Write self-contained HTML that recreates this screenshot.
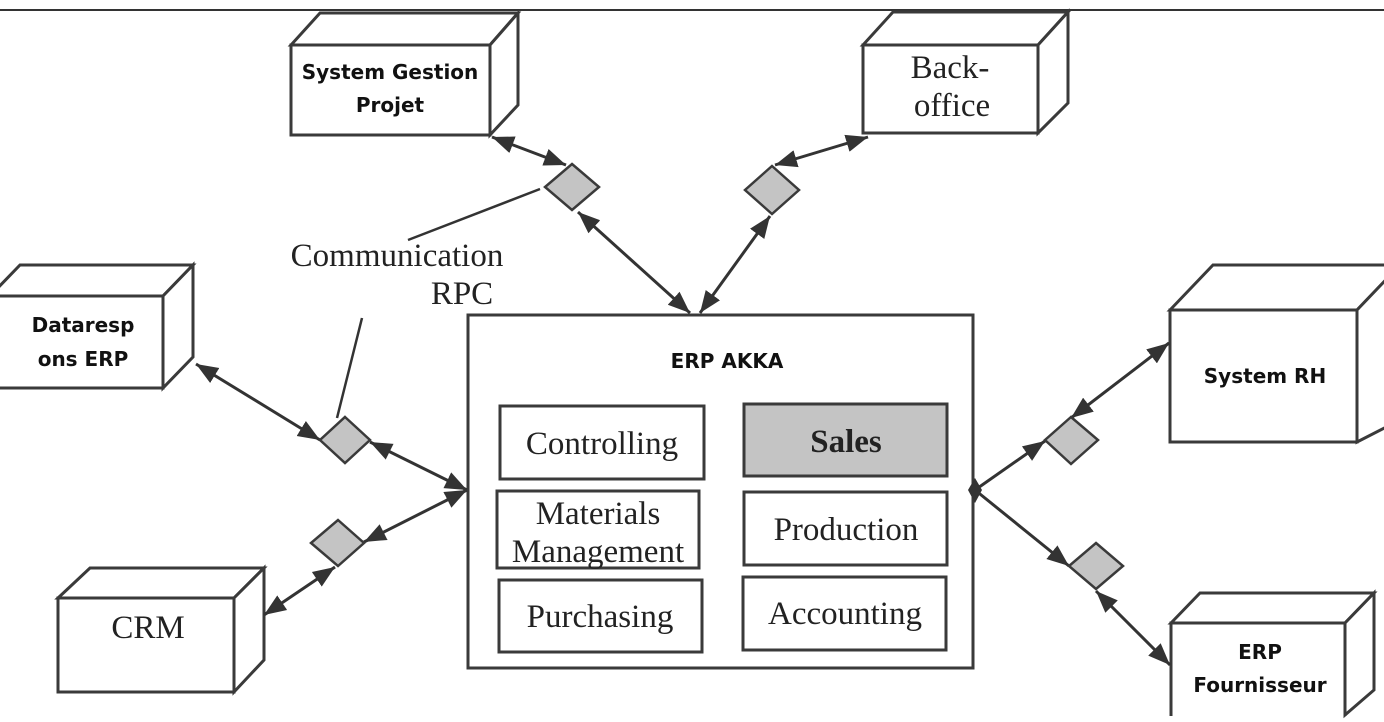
<!DOCTYPE html>
<html><head><meta charset="utf-8"><style>
html,body{margin:0;padding:0;background:#fff;}
svg{display:block;}
.b{font-family:"DejaVu Sans","Liberation Sans",sans-serif;font-weight:bold;font-size:20px;fill:#111;}
.s{font-family:"Liberation Serif",serif;font-size:33px;fill:#222;}
</style></head><body>
<svg width="1384" height="722" viewBox="0 0 1384 722" xmlns="http://www.w3.org/2000/svg">
<defs>
<marker id="A" viewBox="0 0 10 10" refX="10" refY="5" markerWidth="22" markerHeight="22" orient="auto-start-reverse" markerUnits="userSpaceOnUse">
<path d="M0,1 L10,5 L0,9 z" fill="#333"/></marker>
</defs>
<line x1="0" y1="10" x2="1384" y2="10" stroke="#333" stroke-width="2"/>
<g fill="#fff" stroke="#3a3a3a" stroke-width="3" stroke-linejoin="miter">
<path d="M291,45 L320,13 L518,13 L490,45 Z"/><path d="M490,45 L518,13 L518,105 L490,135 Z"/><rect x="291" y="45" width="199" height="90"/>
<path d="M863,45 L893,12 L1068,12 L1038,45 Z"/><path d="M1038,45 L1068,12 L1068,103 L1038,133 Z"/><rect x="863" y="45" width="175" height="88"/>
<path d="M-10,296 L20,265 L193,265 L163,296 Z"/><path d="M163,296 L193,265 L193,357 L163,388 Z"/><rect x="-10" y="296" width="173" height="92"/>
<path d="M58,598 L90,568 L264,568 L234,598 Z"/><path d="M234,598 L264,568 L264,660 L234,692 Z"/><rect x="58" y="598" width="176" height="94"/>
<path d="M1170,310 L1213,265 L1400,265 L1357,310 Z"/><path d="M1357,310 L1400,265 L1400,420 L1357,442 Z"/><rect x="1170" y="310" width="187" height="132"/>
<path d="M1171,623 L1200,593 L1374,593 L1345,623 Z"/><path d="M1345,623 L1374,593 L1374,690 L1345,715 Z"/><path d="M1171,716 L1171,623 L1345,623 L1345,716"/>
<rect x="468" y="315" width="505" height="353"/>
<rect x="500" y="406" width="204" height="73"/>
<rect x="744" y="404" width="203" height="72" fill="#c4c4c4"/>
<rect x="497" y="491" width="202" height="77"/>
<rect x="744" y="492" width="203" height="73"/>
<rect x="499" y="580" width="203" height="72"/>
<rect x="743" y="577" width="203" height="73"/>
</g>
<g stroke="#333" stroke-width="3" fill="none">
<line x1="492" y1="137" x2="566" y2="165" marker-start="url(#A)" marker-end="url(#A)"/>
<line x1="578" y1="212" x2="690" y2="313" marker-start="url(#A)" marker-end="url(#A)"/>
<line x1="868" y1="137" x2="775" y2="165" marker-start="url(#A)" marker-end="url(#A)"/>
<line x1="770" y1="216" x2="700" y2="313" marker-start="url(#A)" marker-end="url(#A)"/>
<line x1="196" y1="364" x2="320" y2="440" marker-start="url(#A)" marker-end="url(#A)"/>
<line x1="370" y1="442" x2="467" y2="490" marker-start="url(#A)" marker-end="url(#A)"/>
<line x1="264" y1="615" x2="335" y2="567" marker-start="url(#A)" marker-end="url(#A)"/>
<line x1="364" y1="542" x2="467" y2="490" marker-start="url(#A)" marker-end="url(#A)"/>
<line x1="975" y1="490" x2="1045" y2="441" marker-end="url(#A)"/>
<line x1="1071" y1="418" x2="1169" y2="343" marker-start="url(#A)" marker-end="url(#A)"/>
<line x1="975" y1="490" x2="1069" y2="566" marker-end="url(#A)"/>
<line x1="1096" y1="591" x2="1170" y2="665" marker-start="url(#A)" marker-end="url(#A)"/>
</g>
<path d="M975,478 L982,490 L975,503 L968,490 Z" fill="#333"/>
<g fill="#c4c4c4" stroke="#3a3a3a" stroke-width="2.5">
<path d="M572,164 L599,187 L572,210 L545,187 Z"/>
<path d="M772,166 L799,190 L772,214 L745,190 Z"/>
<path d="M345,417 L370,440 L345,463 L320,440 Z"/>
<path d="M338,520 L364,543 L338,566 L311,543 Z"/>
<path d="M1071,417 L1098,440 L1071,464 L1045,440 Z"/>
<path d="M1096,543 L1123,566 L1096,589 L1069,566 Z"/>
</g>
<g stroke="#333" stroke-width="2.5">
<line x1="408" y1="240" x2="540" y2="189"/>
<line x1="362" y1="318" x2="337" y2="418"/>
</g>
<text class="b" x="390" y="79" text-anchor="middle">System Gestion</text>
<text class="b" x="390" y="112" text-anchor="middle">Projet</text>
<text class="s" x="950" y="78" text-anchor="middle">Back-</text>
<text class="s" x="952" y="116" text-anchor="middle">office</text>
<text class="b" x="83" y="332" text-anchor="middle">Dataresp</text>
<text class="b" x="83" y="366" text-anchor="middle">ons ERP</text>
<text class="s" x="148" y="638" text-anchor="middle">CRM</text>
<text class="b" x="1265" y="383" text-anchor="middle">System RH</text>
<text class="b" x="1260" y="659" text-anchor="middle">ERP</text>
<text class="b" x="1260" y="692" text-anchor="middle">Fournisseur</text>
<text class="s" x="397" y="266" text-anchor="middle">Communication</text>
<text class="s" x="462" y="304" text-anchor="middle">RPC</text>
<text class="b" x="727" y="368" text-anchor="middle">ERP AKKA</text>
<text class="s" x="602" y="454" text-anchor="middle">Controlling</text>
<text class="s" x="846" y="452" text-anchor="middle" font-weight="bold">Sales</text>
<text class="s" x="598" y="524" text-anchor="middle">Materials</text>
<text class="s" x="598" y="562" text-anchor="middle">Management</text>
<text class="s" x="846" y="540" text-anchor="middle">Production</text>
<text class="s" x="600" y="627" text-anchor="middle">Purchasing</text>
<text class="s" x="845" y="624" text-anchor="middle">Accounting</text>
</svg>
</body></html>
